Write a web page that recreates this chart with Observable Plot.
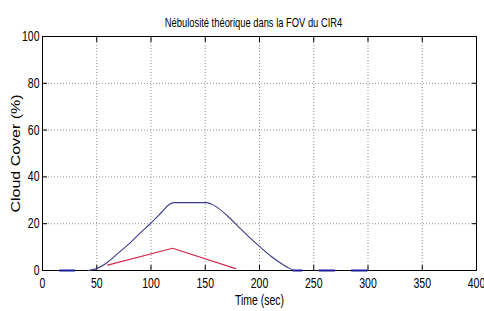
<!DOCTYPE html>
<html><head><meta charset="utf-8">
<script src="https://cdn.jsdelivr.net/npm/d3@7"></script>
<script src="https://cdn.jsdelivr.net/npm/@observablehq/plot@0.6"></script>
<style>
body{margin:0;background:#fff;}
#chart svg{font-family:"Liberation Sans",Arial,sans-serif;}
</style>
</head><body><div id="chart"></div>
<script>
const chartTitle = "Nébulosité théorique dans la FOV du CIR4";
const xLabel = "Time (sec)";
const yLabel = "Cloud Cover (%)";
const xTicks = [0,50,100,150,200,250,300,350,400];
const yTicks = [0,20,40,60,80,100];

const blueTime  = [42,50,60,70,80,90,100,110,117,121,151,155,160,170,180,190,200,210,220,228,232];
const blueCover = [0,0.8,3.5,7.5,11.5,16,20.3,25,28.3,29,29,28.5,27.3,23.5,19,14.5,10.3,6.3,3,0.8,0];

const redTime  = [60,120,178];
const redCover = [2.3,9.5,0.8];

const zeroStart = [16,231,255,285];
const zeroEnd   = [29.5,239,269,299];

const blue = blueTime.map((t,i)=>({t, v: blueCover[i]}));
const red = redTime.map((t,i)=>({t, v: redCover[i]}));
const zeros = zeroStart.flatMap((s,i)=>[{t:s,v:0,k:i},{t:zeroEnd[i],v:0,k:i}]);

const plot = Plot.plot({
  width: 484, height: 311,
  marginLeft: 42, marginRight: 8, marginTop: 36, marginBottom: 41,
  style: {fontSize: "13px", background: "#fff", overflow: "visible"},
  x: {domain: [0,400], ticks: xTicks},
  y: {domain: [0,100], ticks: yTicks},
  marks: [
    Plot.gridX(xTicks, {stroke: "#777", strokeOpacity: 0.8, strokeDasharray: "1,2"}),
    Plot.gridY(yTicks, {stroke: "#777", strokeOpacity: 0.8, strokeDasharray: "1,2"}),
    Plot.axisX(xTicks, {anchor: "bottom", tickSize: 0, tickPadding: 8, fontSize: 14, label: xLabel, labelAnchor: "center", labelArrow: "none", labelOffset: 34}),
    Plot.axisY(yTicks, {anchor: "left", tickSize: 0, tickPadding: 3, fontSize: 14, label: null}),
    Plot.axisX(xTicks, {anchor: "bottom", tickSize: -5, tickFormat: () => "", label: null}),
    Plot.axisX(xTicks, {anchor: "top", tickSize: -5, tickFormat: () => "", label: null}),
    Plot.axisY(yTicks, {anchor: "left", tickSize: -5, tickFormat: () => "", label: null}),
    Plot.axisY(yTicks, {anchor: "right", tickSize: -5, tickFormat: () => "", label: null}),
    Plot.frame({stroke: "#000"}),
    Plot.line(zeros, {x: "t", y: "v", z: "k", stroke: "#1a1a9a", strokeWidth: 2}),
    Plot.line(blue, {x: "t", y: "v", stroke: "#3c3c8c", strokeWidth: 1.1, curve: "monotone-x"}),
    Plot.line(red, {x: "t", y: "v", stroke: "#d0284e", strokeWidth: 1.1}),
    Plot.text([chartTitle], {frameAnchor: "top", dy: -18, dx: -6, fontSize: 12.5, fill: "#000", className: "ttl"}),
    Plot.text([yLabel], {frameAnchor: "left", textAnchor: "middle", dx: -26, rotate: -90, fontSize: 16, fill: "#000", className: "ylab"})
  ]
});
document.getElementById("chart").appendChild(plot);
// emulate the horizontally condensed lettering of the reference
d3.select(plot).selectAll("text").each(function() {
  const el = d3.select(this);
  const inYlab = this.closest(".ylab");
  const sc = inYlab ? " scale(1,0.75)" : " scale(0.75,1)";
  const tr = el.attr("transform") || "";
  if (!tr && (el.attr("x") != null || el.attr("y") != null)) {
    const x = +el.attr("x") || 0, y = +el.attr("y") || 0;
    el.attr("x", null).attr("y", null);
    el.attr("transform", `translate(${x},${y})` + sc);
  } else {
    el.attr("transform", tr + sc);
  }
});
</script>
</body></html>
